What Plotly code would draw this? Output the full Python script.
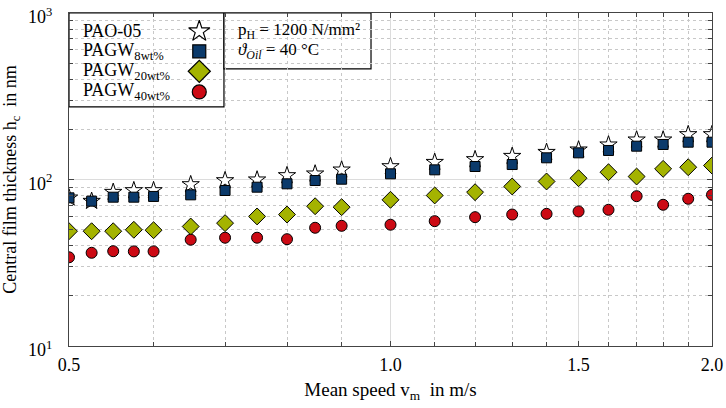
import plotly.graph_objects as go

# mean speed in m/s
speed = [0.5, 0.525, 0.55, 0.575, 0.6, 0.65, 0.7, 0.75, 0.8, 0.85, 0.9,
         1.0, 1.1, 1.2, 1.3, 1.4, 1.5, 1.6, 1.7, 1.8, 1.9, 2.0]

# central film thickness in nm
pao05 = [77.6, 74.1, 83.9, 85.9, 85.9, 93.3, 98.6, 99.6, 105.7, 108.2, 114.3,
         119.7, 127.0, 131.9, 138.0, 145.8, 150.8, 161.6, 173.1, 173.1, 186.4, 186.4]
pagw8 = [77.6, 74.1, 78.3, 78.3, 79.1, 80.9, 85.9, 89.9, 94.2, 98.6, 100.4,
         108.2, 114.3, 119.7, 123.0, 135.0, 144.6, 149.4, 158.5, 162.3, 167.5, 167.5]
pagw20 = [48.9, 48.9, 48.9, 49.9, 49.6, 52.2, 54.7, 60.0, 61.6, 69.1, 68.2,
          75.5, 80.2, 83.9, 90.8, 97.3, 101.8, 110.6, 104.2, 115.9, 118.5, 121.3]
pagw40 = [34.1, 36.3, 37.1, 37.0, 37.0, 43.5, 44.7, 44.7, 43.8, 51.3, 52.7,
          53.5, 56.2, 59.4, 61.6, 62.2, 64.3, 65.8, 79.4, 70.5, 76.6, 80.9]

x_ticks = [0.5, 1.0, 1.5, 2.0]
x_tick_labels = ["0.5", "1.0", "1.5", "2.0"]
y_ticks = [10, 100, 1000]
y_tick_labels = ["10<sup>1</sup>", "10<sup>2</sup>", "10<sup>3</sup>"]

legend_names = ["PAO-05", "PAGW<sub>8wt%</sub>", "PAGW<sub>20wt%</sub>", "PAGW<sub>40wt%</sub>"]

FONT = "Liberation Serif, Times New Roman, serif"
NAVY = "#0b3a6b"
OLIVE = "#a4b300"
RED = "#cc0a14"

styles = [
    dict(symbol="star", size=13, color="white"),
    dict(symbol="square", size=10, color=NAVY),
    dict(symbol="diamond", size=13, color=OLIVE),
    dict(symbol="circle", size=11, color=RED),
]
series = [pao05, pagw8, pagw20, pagw40]

fig = go.Figure()
for name, vals, st in zip(legend_names, series, styles):
    fig.add_trace(go.Scatter(
        x=speed, y=vals, mode="markers", name=name, showlegend=False,
        marker=dict(symbol=st["symbol"], size=st["size"], color=st["color"],
                    line=dict(color="black", width=1))))

# hand-made legend, symbols to the right of the text like the original
leg_rows = [0.945, 0.885, 0.825, 0.763]
leg_sizes = [16, 13, 17, 14]
for name, st, yy, sz in zip(legend_names, styles, leg_rows, leg_sizes):
    fig.add_trace(go.Scatter(
        x=[0.2026], y=[yy], xaxis="x2", yaxis="y2", mode="markers",
        showlegend=False, hoverinfo="skip",
        marker=dict(symbol=st["symbol"], size=sz, color=st["color"],
                    line=dict(color="black", width=1.2))))
    fig.add_annotation(xref="paper", yref="paper", x=0.018, y=yy, text=name,
                       showarrow=False, xanchor="left", yanchor="middle",
                       font=dict(family=FONT, size=18, color="black"))

fig.add_shape(type="rect", xref="paper", yref="paper", x0=0, x1=0.241, y0=0.718, y1=1,
              line=dict(color="black", width=1.2), fillcolor="white", layer="between")
fig.add_shape(type="rect", xref="paper", yref="paper", x0=0.241, x1=0.4697, y0=0.832, y1=1,
              line=dict(color="black", width=1.2), fillcolor="white", layer="between")
fig.add_annotation(xref="paper", yref="paper", x=0.259, y=0.945,
                   text="p<sub>H</sub> = 1200 N/mm²", showarrow=False,
                   xanchor="left", yanchor="middle",
                   font=dict(family=FONT, size=17, color="black"))
fig.add_annotation(xref="paper", yref="paper", x=0.259, y=0.885,
                   text="<i>ϑ</i><sub><i>Oil</i></sub> = 40 °C", showarrow=False,
                   xanchor="left", yanchor="middle",
                   font=dict(family=FONT, size=17, color="black"))

minor_x = [0.6, 0.7, 0.8, 0.9, 1.1, 1.2, 1.3, 1.4, 1.6, 1.7, 1.8, 1.9]
minor_y = [d * m for d in (10, 100) for m in range(2, 10)]

fig.update_layout(
    width=726, height=408,
    margin=dict(l=69, r=14, t=13, b=62),
    paper_bgcolor="white", plot_bgcolor="white",
    font=dict(family=FONT, size=18, color="black"),
    xaxis=dict(
        type="log", range=[-0.30103, 0.30103], automargin=False,
        tickvals=x_ticks, ticktext=x_tick_labels, tickfont=dict(size=18),
        showgrid=True, gridcolor="#dcdcdc", gridwidth=1,
        ticks="inside", ticklen=5, tickcolor="#444", ticklabelstandoff=2,
        showline=True, linecolor="#444", linewidth=1, mirror="ticks",
        minor=dict(tickvals=minor_x, ticks="inside", ticklen=4, tickcolor="#444",
                   showgrid=True, gridcolor="#c8c8c8", griddash="dot", gridwidth=1),
        title=dict(text="Mean speed v<sub>m</sub>  in m/s", font=dict(size=19), standoff=9),
        zeroline=False,
    ),
    yaxis=dict(
        type="log", range=[1, 3], automargin=False,
        tickvals=y_ticks, ticktext=y_tick_labels, tickfont=dict(size=18),
        showgrid=True, gridcolor="#dcdcdc", gridwidth=1,
        ticks="inside", ticklen=5, tickcolor="#444",
        ticklabelstandoff=12, ticklabelshift=4,
        showline=True, linecolor="#444", linewidth=1, mirror="ticks",
        minor=dict(tickvals=minor_y, ticks="inside", ticklen=4, tickcolor="#444",
                   showgrid=True, gridcolor="#c8c8c8", griddash="dot", gridwidth=1),
        title=dict(text="Central film thickness h<sub>c</sub>  in nm", font=dict(size=18), standoff=16),
        zeroline=False,
    ),
    xaxis2=dict(overlaying="x", range=[0, 1], visible=False, fixedrange=True),
    yaxis2=dict(overlaying="y", range=[0, 1], visible=False, fixedrange=True),
)

# drop the default 8px page margin so the figure fills the window
fig.write_html("out.html", config={"displayModeBar": False},
               post_script="document.body.style.margin = '0';")
